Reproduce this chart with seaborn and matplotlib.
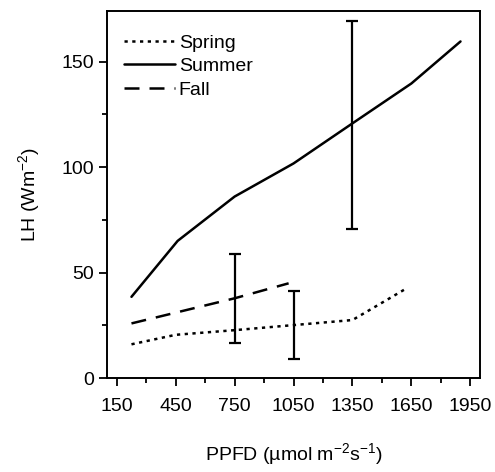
import matplotlib
matplotlib.use("Agg")
import matplotlib.pyplot as plt
import seaborn as sns
import pandas as pd
from matplotlib.ticker import MultipleLocator, FixedLocator

# Data
spring_x = [225, 450, 750, 1050, 1350, 1625]
spring_y = [16, 20.5, 22.7, 25.1, 27.5, 42.5]
summer_x = [225, 460, 750, 1050, 1350, 1650, 1900]
summer_y = [38.5, 65, 86, 101.7, 120.7, 139.6, 159.5]
fall_x = [225, 450, 750, 1025]
fall_y = [25.9, 31, 37.8, 44.9]

err_x = [750, 1050, 1350]
err_y = [37.8, 25.2, 120]
err_e = [21, 16.2, 49.4]

x_ticks = [150, 450, 750, 1050, 1350, 1650, 1950]
y_ticks = [0, 50, 100, 150]

sns.set_style("ticks")
plt.rcParams['font.family'] = ['Liberation Sans', 'DejaVu Sans']
plt.rcParams['mathtext.fontset'] = 'custom'
plt.rcParams['mathtext.rm'] = 'Liberation Sans'
plt.rcParams['mathtext.it'] = 'Liberation Sans:italic'
plt.rcParams['mathtext.default'] = 'regular'
plt.rcParams['text.color'] = 'black'
plt.rcParams['axes.labelcolor'] = 'black'
plt.rcParams['xtick.color'] = 'black'
plt.rcParams['ytick.color'] = 'black'

df = pd.concat([
    pd.DataFrame({'x': spring_x, 'y': spring_y, 'season': 'Spring'}),
    pd.DataFrame({'x': summer_x, 'y': summer_y, 'season': 'Summer'}),
    pd.DataFrame({'x': fall_x, 'y': fall_y, 'season': 'Fall'}),
])

fig = plt.figure(figsize=(4.95, 4.72), dpi=100)
ax = fig.add_axes([0.216, 0.199, 0.754, 0.778])

styles = {'Spring': (0, (1.3, 1.8)), 'Summer': '-', 'Fall': (0, (6, 4))}
for s in ['Spring', 'Summer', 'Fall']:
    sub = df[df.season == s]
    sns.lineplot(data=sub, x='x', y='y', ax=ax, color='black', linewidth=1.8,
                 linestyle=styles[s], label=s, estimator=None, sort=False)

ax.errorbar(err_x, err_y, yerr=err_e, fmt='none', ecolor='black',
            elinewidth=1.6, capsize=4, capthick=1.6)

ax.set_xlim(100, 2000)
ax.set_ylim(0, 174)
ax.xaxis.set_major_locator(FixedLocator(x_ticks))
ax.xaxis.set_minor_locator(MultipleLocator(150))
ax.yaxis.set_major_locator(FixedLocator(y_ticks))
ax.yaxis.set_minor_locator(MultipleLocator(25))
ax.tick_params(axis='both', which='major', length=6, width=1.3, labelsize=14, color='black', labelcolor='black')
ax.tick_params(axis='both', which='minor', length=3.5, width=1.3, color='black')
ax.tick_params(axis='x', pad=8)
for sp in ax.spines.values():
    sp.set_visible(True)
    sp.set_linewidth(1.4)
    sp.set_color('black')

ax.set_xlabel('PPFD (µmol m$^{-2}$s$^{-1}$)', fontsize=14, labelpad=19)
ax.set_ylabel('LH (Wm$^{-2}$)', fontsize=14, labelpad=14)

leg = ax.legend(loc='upper left', bbox_to_anchor=(0.0, 0.984), frameon=False,
                fontsize=14, handlelength=2.6, handletextpad=0.2,
                labelspacing=0.3, borderaxespad=0.5)

fig.savefig('out.png', dpi=100)
